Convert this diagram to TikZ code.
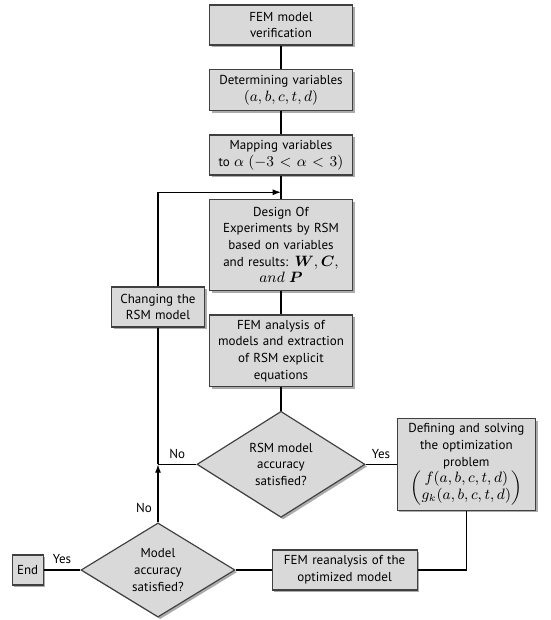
\documentclass[tikz,border=0pt]{standalone}
\usepackage{amsmath}
\usepackage{amssymb}
\usepackage{fontspec}
\setmainfont{PT Sans}
\usepackage{tikz}
\usepackage{xcolor}
\usetikzlibrary{arrows,arrows.meta,shapes,shapes.geometric,positioning,shadows}
\newcommand{\mth}[1]{{\fontsize{8.6}{10}\selectfont$#1$}}

\begin{document}
\begin{tikzpicture}[
  node distance=14pt and 20pt,
  box/.style={draw=black!75, fill=black!15, align=center, inner xsep=1.5pt, inner ysep=3pt, font=\fontsize{7.8}{10}\selectfont, drop shadow={shadow xshift=1.3pt, shadow yshift=-1.3pt, fill=black!55, opacity=0.6}},
  dia/.style={box, diamond, inner sep=0pt},
  lbl/.style={font=\fontsize{7.8}{10}\selectfont},
  arr/.style={-{Latex[length=5pt,width=3.6pt]}},
  line width=0.7pt
]
\useasboundingbox (0,0) rectangle (330pt,-372pt);
\node[box, text width=83pt, minimum height=24pt] (ver) at (168.6pt,-15pt) {FEM model\\verification};
\node[box, text width=83pt, minimum height=24.6pt, below=of ver] (var) {Determining variables\\\mth{(a,b,c,t,d)}};
\node[box, text width=83pt, minimum height=24pt, below=of var] (map) {Mapping variables\\to \mth{\alpha\ (-3<\alpha<3)}};
\node[box, text width=83pt, minimum height=54.6pt, below=of map] (doe) {Design Of\\Experiments by RSM\\based on variables\\and results: \mth{\boldsymbol{W},\boldsymbol{C},}\\\mth{and\ \boldsymbol{P}}};
\node[box, text width=83pt, minimum height=42.6pt, below=of doe] (fea) {FEM analysis of\\models and extraction\\of RSM explicit\\equations};
\node[dia, minimum width=100.8pt, minimum height=54pt, below=of fea] (rsm) {RSM model\\accuracy\\satisfied?};
\node[box, text width=80pt, minimum height=55pt, inner ysep=1.5pt, right=18.6pt of rsm] (opt) {Defining and solving\\the optimization\\problem\\\mth{\begin{pmatrix} f(a,b,c,t,d)\\ g_k(a,b,c,t,d)\end{pmatrix}}};
\node[box, text width=53pt, minimum height=24pt] (chg) at (94.8pt,-184.2pt) {Changing the\\RSM model};
\node[dia, minimum width=92.4pt, minimum height=50.4pt] (acc) at (94.8pt,-342pt) {Model\\accuracy\\satisfied?};
\node[box, minimum height=18pt, inner xsep=3pt, left=22pt of acc] (end) {End};
\node[box, text width=84pt, minimum height=24pt, right=21.6pt of acc] (rea) {FEM reanalysis of the\\optimized model};
\coordinate[below=10pt of map] (top);
\coordinate (jn) at (acc.north |- rsm.west);

\draw (ver) -- (var);
\draw (var) -- (map);
\draw (map) -- (doe);
\draw (doe) -- (fea);
\draw (fea) -- (rsm);
\draw (rsm.east) -- node[above, lbl] {Yes} (opt.west);
\draw (opt.south) |- (rea.east);
\draw (rea.west) -- (acc.east);
\draw (acc.west) -- node[above, lbl] {Yes} (end.east);
\draw[arr] (acc.north) -- node[left, pos=0.25, lbl] {No} (jn);
\draw (rsm.west) -- node[above, lbl] {No} (jn);
\draw (jn) -- (chg.south);
\draw[arr] (chg.north) |- (top);
\end{tikzpicture}
\end{document}
